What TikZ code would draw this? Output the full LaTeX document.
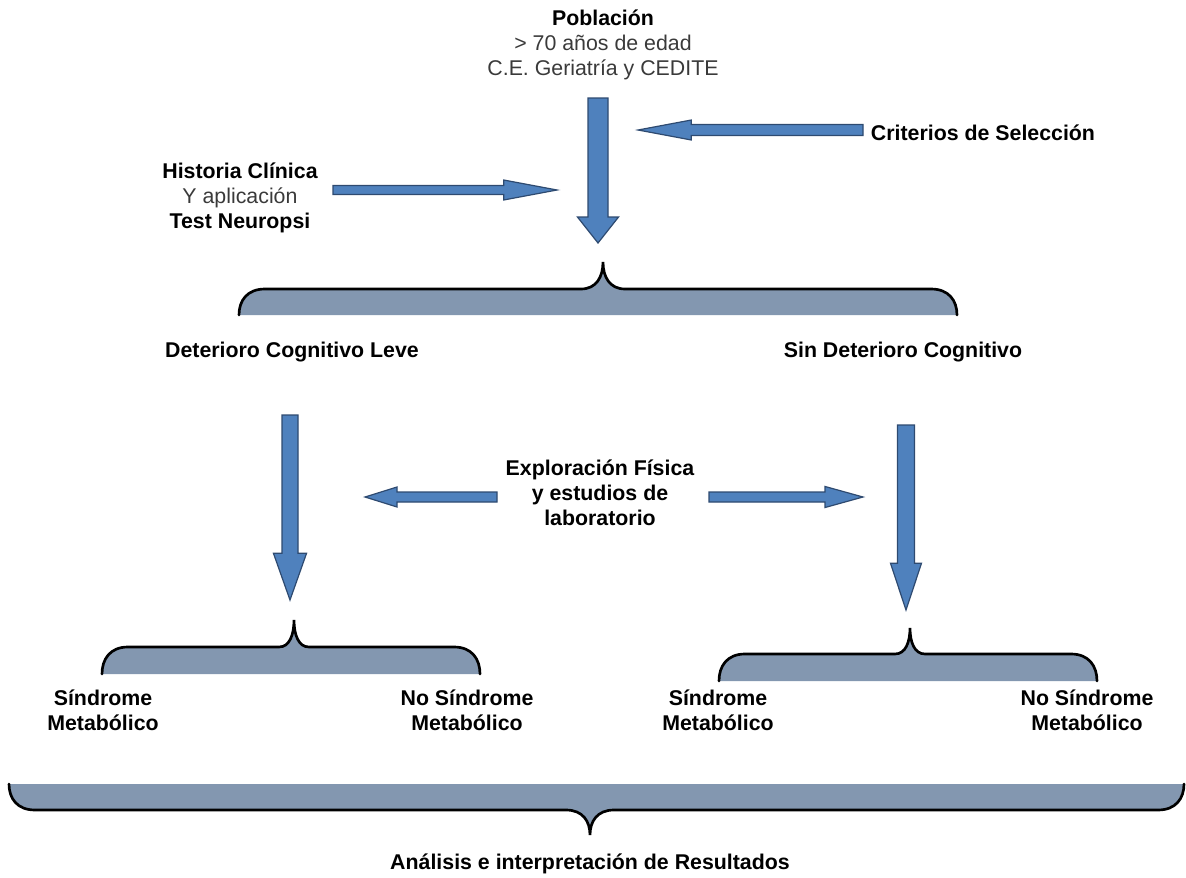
\documentclass[tikz,border=0pt]{standalone}
\usepackage{fontspec}
\setmainfont{Liberation Sans}
\usetikzlibrary{calc}

\definecolor{arrowblue}{HTML}{4F81BD}
\definecolor{arrowedge}{HTML}{2E4A70}
\definecolor{bracegray}{HTML}{8397B0}
\definecolor{textgray}{HTML}{3A3A3A}

\newcommand\regtext[1]{{\mdseries\color{textgray}#1}}

% block arrow: from, to, shaft half width, head half width, head length
\newcommand\blockarrow[5]{%
  \coordinate (ba-h) at ($(#2)!#5!(#1)$);
  \filldraw[arrowbody] ($(#1)!#3!90:(#2)$) -- ($(ba-h)!#3!90:(#2)$)
    -- ($(ba-h)!#4!90:(#2)$) -- (#2) -- ($(ba-h)!#4!-90:(#2)$)
    -- ($(ba-h)!#3!-90:(#2)$) -- ($(#1)!#3!-90:(#2)$) -- cycle;
}

% brace: left x, right x, tip x, base y, line y, tip y, tip half width
\newcommand\drawbrace[7]{%
  \fill[bracefill] (#1,#4) .. controls (#1,{#4+0.55*(#5-#4)}) and ({#1+8},#5) .. ({#1+26},#5)
    -- ({#3-#7},#5) .. controls ({#3-0.3*#7},#5) and (#3,{#5+0.45*(#6-#5)}) .. (#3,#6)
    .. controls (#3,{#5+0.45*(#6-#5)}) and ({#3+0.3*#7},#5) .. ({#3+#7},#5)
    -- ({#2-26},#5) .. controls ({#2-8},#5) and (#2,{#4+0.55*(#5-#4)}) .. (#2,#4) -- cycle;
  \draw[braceline] (#1,#4) .. controls (#1,{#4+0.55*(#5-#4)}) and ({#1+8},#5) .. ({#1+26},#5)
    -- ({#3-#7},#5) .. controls ({#3-0.3*#7},#5) and (#3,{#5+0.45*(#6-#5)}) .. (#3,#6)
    .. controls (#3,{#5+0.45*(#6-#5)}) and ({#3+0.3*#7},#5) .. ({#3+#7},#5)
    -- ({#2-26},#5) .. controls ({#2-8},#5) and (#2,{#4+0.55*(#5-#4)}) .. (#2,#4);
}

\tikzset{
  lbl/.style={font=\fontsize{16}{18.75}\selectfont\bfseries, align=center, inner sep=0pt},
  arrowbody/.style={fill=arrowblue, draw=arrowedge, line width=0.9pt, line join=miter},
  bracefill/.style={fill=bracegray},
  braceline/.style={draw=black, line width=2pt, line cap=round}
}

\begin{document}
\begin{tikzpicture}[x=0.75pt, y=-0.75pt]
  \useasboundingbox (0,0) rectangle (1186,878);

  % texts
  \node[lbl] (pob) at (603,45) {Población\\ \regtext{> 70 años de edad}\\ \regtext{C.E. Geriatría y CEDITE}};
  \node[lbl] (crit) at (983,133) {Criterios de Selección};
  \node[lbl] (hist) at (240,198) {Historia Clínica\\ \regtext{Y aplicación}\\ Test Neuropsi};
  \node[lbl] (dcl) at (292,352) {Deterioro Cognitivo Leve};
  \node[lbl] (sdc) at (903,352) {Sin Deterioro Cognitivo};
  \node[lbl] (expl) at (600,493) {Exploración Física\\ y estudios de\\ laboratorio};
  \node[lbl] (sm1) at (103,710) {Síndrome\\ Metabólico};
  \node[lbl] (nsm1) at (467,710) {No Síndrome\\ Metabólico};
  \node[lbl] (sm2) at (718,710) {Síndrome\\ Metabólico};
  \node[lbl] (nsm2) at (1087,710) {No Síndrome\\ Metabólico};
  \node[lbl] (res) at (590,864) {Análisis e interpretación de Resultados};

  % arrow ends
  \coordinate (pob-s) at (598,98);
  \coordinate (pob-e) at (598,243);
  \coordinate (crit-s) at (863,130);
  \coordinate (crit-e) at (638,130);
  \coordinate (hist-s) at (333,190);
  \coordinate (hist-e) at (557,190);
  \coordinate (dcl-s) at (290,415);
  \coordinate (dcl-e) at (290,600);
  \coordinate (sdc-s) at (906,425);
  \coordinate (sdc-e) at (906,610);
  \coordinate (expl-ls) at (497,497);
  \coordinate (expl-le) at (365,497);
  \coordinate (expl-rs) at (709,497);
  \coordinate (expl-re) at (863,497);

  \blockarrow{pob-s}{pob-e}{7.5pt}{15.4pt}{19.5pt}
  \blockarrow{crit-s}{crit-e}{4.1pt}{7.5pt}{40pt}
  \blockarrow{hist-s}{hist-e}{3.4pt}{7.5pt}{40pt}
  \blockarrow{dcl-s}{dcl-e}{6pt}{12.4pt}{35pt}
  \blockarrow{sdc-s}{sdc-e}{6.4pt}{11.6pt}{35pt}
  \blockarrow{expl-ls}{expl-le}{3.75pt}{7.5pt}{24pt}
  \blockarrow{expl-rs}{expl-re}{3.75pt}{7.9pt}{28.5pt}

  % braces
  \drawbrace{239}{957}{603}{315}{289}{262}{22}
  \drawbrace{102}{480}{294}{674}{647}{620}{15}
  \drawbrace{719}{1097}{910}{681}{654}{628}{15}
  \drawbrace{9}{1184}{590}{784}{810}{835}{24}
\end{tikzpicture}
\end{document}
